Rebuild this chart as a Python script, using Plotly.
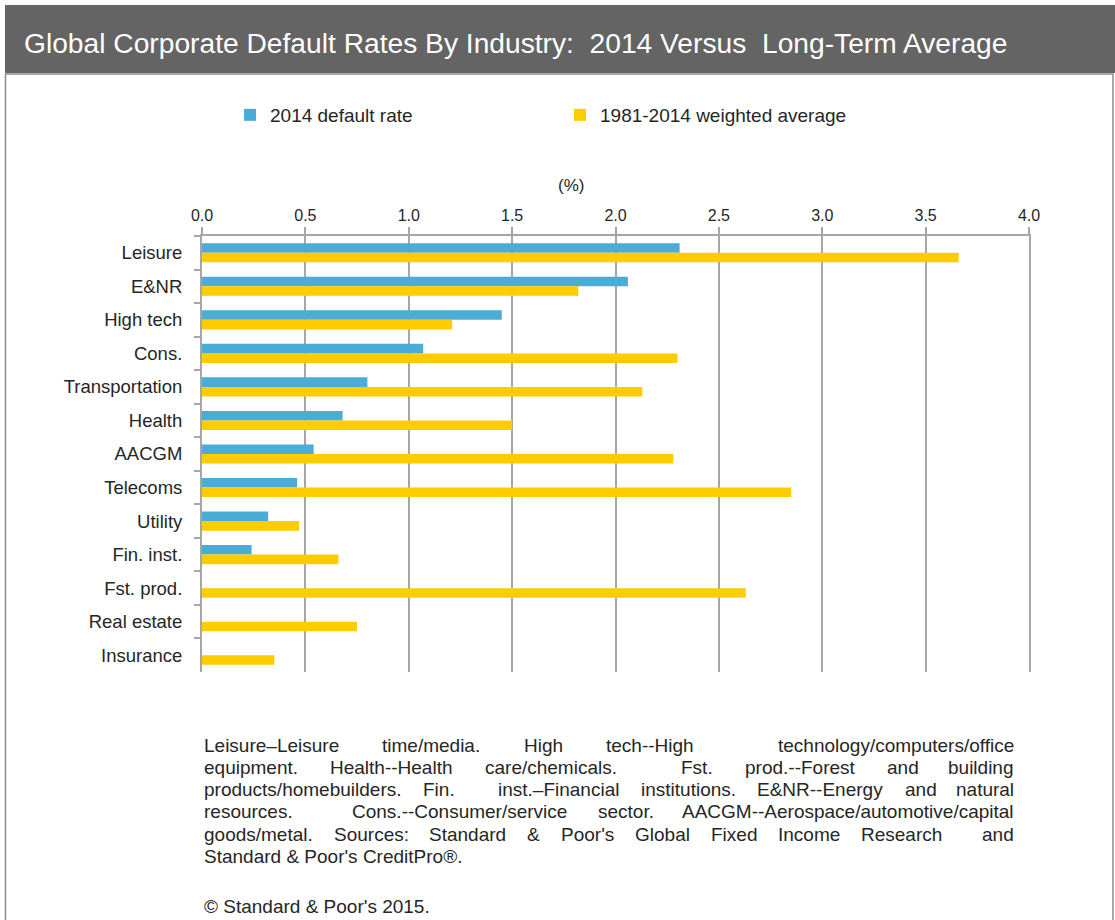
import re
import plotly.graph_objects as go

# ---------------- data ----------------
categories = ["Leisure", "E&NR", "High tech", "Cons.", "Transportation", "Health",
              "AACGM", "Telecoms", "Utility", "Fin. inst.", "Fst. prod.",
              "Real estate", "Insurance"]
rate_2014 = [2.31, 2.06, 1.45, 1.07, 0.80, 0.68, 0.54, 0.46, 0.32, 0.24, 0.0, 0.0, 0.0]
avg_1981_2014 = [3.66, 1.82, 1.21, 2.30, 2.13, 1.50, 2.28, 2.85, 0.47, 0.66, 2.63, 0.75, 0.35]
x_tick_vals = [0.0, 0.5, 1.0, 1.5, 2.0, 2.5, 3.0, 3.5, 4.0]
x_tick_text = ["0.0", "0.5", "1.0", "1.5", "2.0", "2.5", "3.0", "3.5", "4.0"]
series_names = ["2014 default rate", "1981-2014 weighted average"]
title_text = "Global Corporate Default Rates By Industry:  2014 Versus  Long-Term Average"
axis_title = "(%)"
footnote_lines = [
    "Leisure\u2013Leisure time/media. High tech--High  technology/computers/office",
    "equipment. Health--Health care/chemicals.  Fst. prod.--Forest and building",
    "products/homebuilders. Fin.  inst.\u2013Financial institutions. E&NR--Energy and natural",
    "resources.  Cons.--Consumer/service sector. AACGM--Aerospace/automotive/capital",
    "goods/metal. Sources: Standard & Poor's Global Fixed Income Research  and",
]
footnote_last = "Standard & Poor's CreditPro\u00ae."
copyright_text = "\u00a9 Standard & Poor's 2015."

# ---------------- styling ----------------
W, H = 1115, 920
BLUE = "#4BACD6"
YELLOW = "#FFCC00"
GRID = "#A6A6A6"
TEXT = "#262626"
BASE_FONT = "Liberation Sans, Arial, sans-serif"


def px(x):
    return x / W


def py(y):
    return 1 - y / H


fig = go.Figure()
fig.add_trace(go.Bar(y=categories, x=rate_2014, name=series_names[0], orientation="h",
                     marker=dict(color=BLUE, line=dict(width=0))))
fig.add_trace(go.Bar(y=categories, x=avg_1981_2014, name=series_names[1], orientation="h",
                     marker=dict(color=YELLOW, line=dict(width=0))))

fig.update_layout(
    width=W, height=H,
    margin=dict(l=0, r=0, t=0, b=0, pad=0),
    paper_bgcolor="white", plot_bgcolor="white",
    barmode="group", bargap=0.43, bargroupgap=0.0,
    font=dict(family=BASE_FONT, size=16, color=TEXT),
    xaxis=dict(
        domain=[px(202), px(1029)], range=[0, 4], side="top", automargin=False,
        tickvals=x_tick_vals, ticktext=x_tick_text,
        showgrid=True, gridcolor=GRID, gridwidth=2,
        showline=True, linecolor=GRID, linewidth=2,
        ticks="outside", ticklen=7, tickwidth=2, tickcolor=GRID,
        tickfont=dict(size=16, color=TEXT), zeroline=False,
        fixedrange=True,
    ),
    xaxis2=dict(
        overlaying="x", matches="x", side="bottom", anchor="y", automargin=False,
        tickvals=x_tick_vals, showticklabels=False, showgrid=False,
        ticks="outside", ticklen=6, tickwidth=2, tickcolor=GRID, showline=False,
        zeroline=False,
    ),
    yaxis=dict(
        domain=[py(672), py(236)], autorange="reversed", type="category", automargin=False,
        showgrid=False, showline=True, linecolor=GRID, linewidth=2, mirror=True,
        ticks="outside", tickson="boundaries", ticklen=6, tickwidth=2, tickcolor=GRID,
        tickfont=dict(size=18.5, color=TEXT), ticklabelstandoff=14,
        zeroline=False, fixedrange=True,
    ),
    legend=dict(
        orientation="h", x=px(230), y=py(115), xanchor="left", yanchor="middle",
        font=dict(size=19, color=TEXT), entrywidth=285, entrywidthmode="pixels",
        itemwidth=30, bgcolor="rgba(0,0,0,0)", traceorder="normal",
    ),
    showlegend=True,
)

shapes = [
    dict(type="rect", xref="paper", yref="paper", x0=px(5), x1=px(1115), y0=py(5), y1=py(73),
         fillcolor="#646464", line=dict(width=0), layer="below"),
    dict(type="rect", xref="paper", yref="paper", x0=px(5.5), x1=px(1113), y0=py(74), y1=py(930),
         fillcolor="rgba(0,0,0,0)", line=dict(color="#8C8C8C", width=1.5), layer="below"),
]
fig.update_layout(shapes=shapes)

annotations = [
    dict(text=title_text, x=px(22), y=py(43), xref="paper", yref="paper",
         xanchor="left", yanchor="middle", showarrow=False,
         font=dict(family=BASE_FONT, size=28.2, color="white")),
    dict(text=axis_title, x=px(571), y=py(185), xref="paper", yref="paper",
         xanchor="center", yanchor="middle", showarrow=False,
         font=dict(family=BASE_FONT, size=17, color=TEXT)),
]

# ---- justified footnote (Arial / Liberation Sans metrics, per 1000 em) ----
AW = {' ': 278, 'a': 556, 'b': 556, 'c': 500, 'd': 556, 'e': 556, 'f': 278, 'g': 556,
      'h': 556, 'i': 222, 'j': 222, 'k': 500, 'l': 222, 'm': 833, 'n': 556, 'o': 556,
      'p': 556, 'q': 556, 'r': 333, 's': 500, 't': 278, 'u': 556, 'v': 500, 'w': 722,
      'x': 500, 'y': 500, 'z': 500,
      'A': 667, 'B': 667, 'C': 722, 'D': 722, 'E': 667, 'F': 611, 'G': 778, 'H': 722,
      'I': 278, 'J': 500, 'K': 667, 'L': 556, 'M': 833, 'N': 722, 'O': 778, 'P': 667,
      'Q': 778, 'R': 722, 'S': 667, 'T': 611, 'U': 722, 'V': 667, 'W': 944, 'X': 667,
      'Y': 667, 'Z': 611, '.': 278, ',': 278, '-': 333, '\u2013': 556, '/': 278,
      ':': 278, '&': 667, "'": 191, '\u00ae': 737, '\u00a9': 737}
FN_SIZE = 19


def tw(s):
    return sum(AW.get(c, 556) for c in s) * FN_SIZE / 1000


X_LEFT, X_RIGHT = 203, 1015
line_y = [745, 767.3, 789.6, 811.9, 834.2]
for line, yy in zip(footnote_lines, line_y):
    words = re.findall(r"\S+", line)
    gaps = [len(g) for g in re.findall(r" +", line)]
    widths = [tw(w) for w in words]
    extra = (X_RIGHT - X_LEFT) - sum(widths)
    per_space = extra / max(sum(gaps), 1)
    x = X_LEFT
    for i, w in enumerate(words):
        if i == len(words) - 1:
            ann = dict(x=px(X_RIGHT), xanchor="right")
        else:
            ann = dict(x=px(x), xanchor="left")
        ann.update(text=w, y=py(yy), xref="paper", yref="paper", yanchor="middle",
                   showarrow=False, borderpad=0,
                   font=dict(family=BASE_FONT, size=FN_SIZE, color=TEXT))
        annotations.append(ann)
        if i < len(gaps):
            x += widths[i] + gaps[i] * per_space

annotations.append(dict(text=footnote_last, x=px(X_LEFT), y=py(856.5), xref="paper", yref="paper",
                        xanchor="left", yanchor="middle", showarrow=False, borderpad=0,
                        font=dict(family=BASE_FONT, size=FN_SIZE, color=TEXT)))
annotations.append(dict(text=copyright_text, x=px(X_LEFT), y=py(906), xref="paper", yref="paper",
                        xanchor="left", yanchor="middle", showarrow=False, borderpad=0,
                        font=dict(family=BASE_FONT, size=FN_SIZE, color=TEXT)))

fig.update_layout(annotations=annotations)

fig.write_html("out.html", config={"displayModeBar": False},
               post_script="document.body.style.margin='0';")
